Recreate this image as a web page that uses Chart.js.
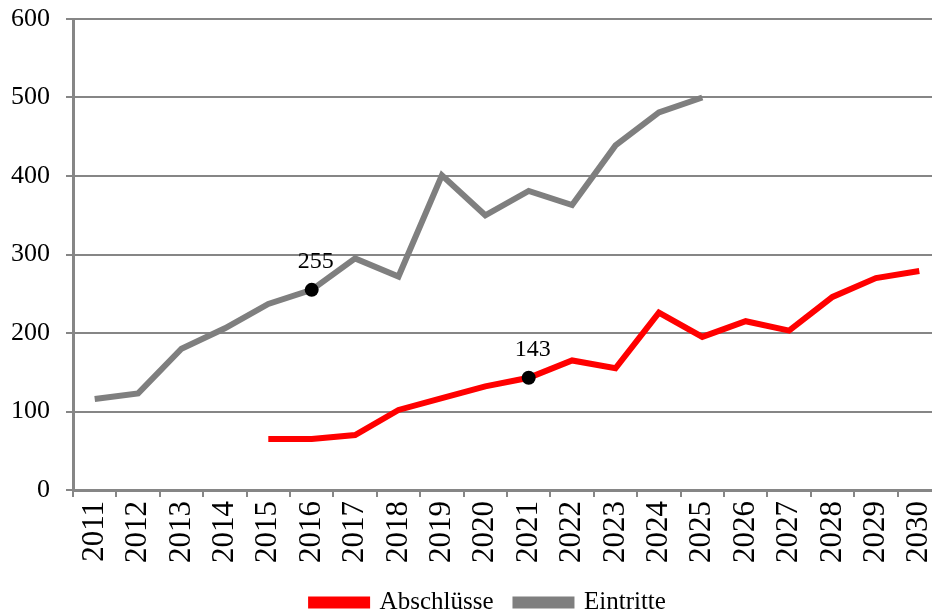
<!DOCTYPE html>
<html>
<head>
<meta charset="utf-8">
<script src="https://cdn.jsdelivr.net/npm/chart.js@4"></script>
<style>
    html, body { margin: 0; padding: 0; background: #fff; overflow: hidden; }
    .chart-container { position: relative; width: 941px; height: 615px; }
</style>
</head>
<body>
<div class="chart-container">
    <canvas id="lineChart"></canvas>
</div>
<script>
// Data
const years = ['2011', '2012', '2013', '2014', '2015', '2016', '2017', '2018', '2019', '2020',
               '2021', '2022', '2023', '2024', '2025', '2026', '2027', '2028', '2029', '2030'];
const abschluesse = [null, null, null, null, 65, 65, 70, 102, 117, 132,
                     143, 165, 155, 226, 195, 215, 203, 246, 270, 279];
const eintritte = [116, 123, 180, 206, 237, 255, 295, 272, 401, 350,
                   381, 363, 439, 481, 500, null, null, null, null, null];
const yTicks = [0, 100, 200, 300, 400, 500, 600];
// points that carry a marker and a value label: [dataset index, year]
const labelledPoints = [[1, '2016'], [0, '2021']];

const gridGray = '#868686';
const serif = "'Liberation Serif', 'Times New Roman', serif";

function markerRadius(dsIndex) {
    return ctx => labelledPoints.some(p => p[0] === dsIndex && years.indexOf(p[1]) === ctx.dataIndex) ? 7 : 0;
}

// Draws the value above each marked point
const valueLabels = {
    id: 'valueLabels',
    afterDatasetsDraw(chart) {
        const ctx = chart.ctx;
        ctx.save();
        ctx.fillStyle = '#000';
        ctx.font = '24px ' + serif;
        ctx.textAlign = 'center';
        ctx.textBaseline = 'bottom';
        labelledPoints.forEach(([ds, year]) => {
            const idx = years.indexOf(year);
            const pt = chart.getDatasetMeta(ds).data[idx];
            const value = chart.data.datasets[ds].data[idx];
            ctx.fillText(String(value), pt.x + 4, pt.y - 16);
        });
        ctx.restore();
    }
};

// The legend in the reference sits a bit right of the canvas centre
const legendShift = {
    id: 'legendShift',
    afterLayout(chart) {
        if (chart.legend) {
            chart.legend.left += 18;
            chart.legend.right += 18;
        }
    }
};

new Chart(document.getElementById('lineChart'), {
    type: 'line',
    data: {
        labels: years,
        datasets: [{
            label: 'Abschlüsse',
            data: abschluesse,
            borderColor: '#ff0000',
            backgroundColor: '#ff0000',
            borderWidth: 6,
            pointRadius: markerRadius(0),
            pointHoverRadius: markerRadius(0),
            pointBackgroundColor: '#000',
            pointBorderWidth: 0,
            tension: 0
        }, {
            label: 'Eintritte',
            data: eintritte,
            borderColor: '#7f7f7f',
            backgroundColor: '#7f7f7f',
            borderWidth: 6,
            pointRadius: markerRadius(1),
            pointHoverRadius: markerRadius(1),
            pointBackgroundColor: '#000',
            pointBorderWidth: 0,
            tension: 0
        }]
    },
    options: {
        responsive: true,
        maintainAspectRatio: false,
        animation: false,
        layout: { padding: { top: 19, left: 0, right: 0, bottom: -10 } },
        scales: {
            x: {
                offset: true,
                grid: {
                    offset: true,
                    drawOnChartArea: false,
                    drawTicks: true,
                    tickLength: 7,
                    color: gridGray,
                    lineWidth: 2
                },
                border: { color: gridGray, width: 3 },
                ticks: {
                    minRotation: 90,
                    maxRotation: 90,
                    autoSkip: false,
                    padding: 4,
                    color: '#000',
                    font: { family: serif, size: 31 }
                },
                afterFit(scale) {
                    scale.height = 78;
                    scale.paddingLeft = 0;
                    scale.paddingRight = 0;
                }
            },
            y: {
                min: 0,
                max: 600,
                afterBuildTicks(scale) { scale.ticks = yTicks.map(v => ({ value: v })); },
                grid: {
                    color: gridGray,
                    lineWidth: 2,
                    tickLength: 7
                },
                border: { color: gridGray, width: 3 },
                ticks: {
                    padding: 16,
                    color: '#000',
                    font: { family: serif, size: 26 }
                },
                afterFit(scale) {
                    scale.width = 73;
                    scale.paddingTop = 0;
                    scale.paddingBottom = 0;
                }
            }
        },
        plugins: {
            legend: {
                position: 'bottom',
                labels: {
                    boxWidth: 56,
                    boxHeight: 6,
                    padding: 22,
                    color: '#000',
                    font: { family: serif, size: 25 }
                }
            },
            tooltip: { enabled: false }
        }
    },
    plugins: [valueLabels, legendShift]
});
</script>
</body>
</html>
